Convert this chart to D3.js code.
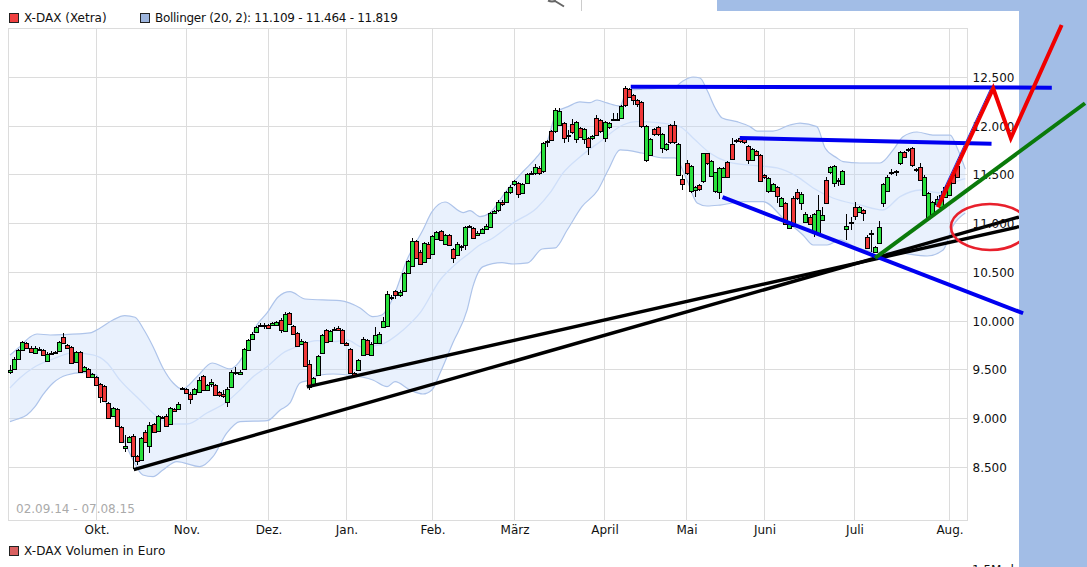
<!DOCTYPE html>
<html><head><meta charset="utf-8">
<style>html,body{margin:0;padding:0;background:#fff;overflow:hidden}svg{display:block}
text{font-family:"DejaVu Sans",sans-serif;font-size:12px;fill:#111}</style>
<script src="https://cdn.jsdelivr.net/npm/d3@7"></script></head><body><svg id="c" width="1087" height="567"></svg>
<script>
const up=[1,1,1,1,0,0,1,0,0,1,1,1,1,0,0,0,1,0,1,0,1,0,0,0,0,1,0,0,1,1,0,0,1,0,1,0,1,1,0,1,0,1,
1,0,0,1,1,0,1,1,0,0,0,1,1,1,1,1,1,1,1,1,0,0,1,1,0,1,0,0,0,1,0,0,1,1,1,0,1,1,0,0,0,0,0,1,
1,0,1,1,1,1,1,1,0,1,1,1,1,0,0,1,0,1,1,0,1,0,0,1,1,1,1,0,1,
1,1,1,1,1,0,1,1,1,0,1,1,1,1,0,1,0,0,1,1,0,1,0,1,0,1,0,1,0,0,1,1,0,
1,1,0,0,0,0,0,1,1,0,0,1,1,0,0,1,0,0,1,1,0,1,0,1,1,1,1,0,0,1,0,0,0,1,0,0,0,1,1,0,1,0,1,0,0,1,1,
0,1,1,1,0,1,1,
1,1,1,0,0,1,0,0,1,1,1,1,1,1,0,1,0,0,0,0,0,1,1,1,1,1,1,1,0,0];
const bodyTop=[9496,9616,9708,9787,9777,9729,9726,9719,9708,9667,9678,9684,9787,9838,9756,9736,9684,9684,9530,9510,
9455,9431,9356,9339,9161,9109,9102,8918,8723,8815,8825,8620,8805,8866,8938,8942,9027,9020,9027,9113,
9102,9154,9318,9308,9257,9308,9400,9441,9349,9376,9349,9274,9253,9308,9482,9482,9482,9719,9811,9873,
9941,9962,9962,9965,9982,9992,10016,10078,10085,9955,9880,9797,9787,9565,9421,9647,9862,9914,9900,9917,
9934,9914,9777,9719,9472,9599,9821,9811,9770,9859,9873,10003,10280,10249,10311,10301,10499,10619,10824,10824,
10711,10804,10797,10876,10917,10927,10889,10889,10742,10797,10770,10968,10975,10958,10910,10948,10982,11112,11126,11218,
11228,11321,11382,11434,11413,11403,11506,11523,11584,11574,11824,11844,11947,12163,12153,12029,11906,12019,12040,11978,
11968,11875,11896,12081,12060,12040,12029,12077,12077,12204,12389,12378,12317,12265,12245,11998,11865,11968,11988,11916,
11814,12009,12009,11814,11454,11619,11588,11372,11393,11721,11721,11639,11526,11567,11567,11629,11814,11855,11875,11865,
11793,11769,11742,11701,11495,11465,11403,11372,11259,11208,11002,11269,11321,11310,11105,11074,11095,11136,11085,11444,
11577,11588,11444,11536,10979,11013,11174,11174,11136,10869,10910,10763,10962,11403,11482,11533,11540,11732,11739,11762,
11780,11557,11584,11482,11311,11218,11256,11294,11380,11413,11499,11595,11602,11574];
const bodyBottom=[9482,9513,9613,9702,9729,9684,9678,9702,9650,9595,9660,9674,9698,9780,9729,9571,9585,9479,9493,9428,
9428,9349,9222,9185,9010,9024,8928,8764,8702,8764,8613,8562,8579,8764,8723,8866,8877,9007,8928,8949,
9082,9102,9308,9263,9205,9257,9277,9291,9298,9359,9246,9239,9229,9171,9325,9465,9462,9513,9708,9815,
9890,9951,9955,9934,9965,9965,9907,9900,9975,9873,9743,9770,9544,9325,9359,9445,9678,9791,9797,9910,
9914,9780,9760,9472,9448,9503,9657,9667,9657,9777,9777,9941,9955,10242,10273,10273,10311,10499,10568,10653,
10592,10605,10653,10694,10848,10831,10797,10787,10653,10677,10763,10787,10968,10852,10889,10906,10948,10968,11115,11136,
11198,11228,11321,11403,11307,11317,11423,11513,11516,11516,11536,11834,11855,11947,12009,11875,11896,11937,11865,11886,
11865,11783,11875,11906,11947,11875,11988,12060,12060,12081,12214,12296,12265,12231,11998,11656,11708,11916,11916,11779,
11762,11834,11834,11495,11403,11516,11331,11345,11352,11434,11619,11485,11331,11321,11475,11475,11660,11844,11844,11834,
11649,11649,11701,11434,11475,11331,11341,11280,11187,11002,10961,10978,11259,11208,11023,11002,10910,10910,11043,11215,
11526,11413,11434,11403,10948,11003,11081,11122,11115,10756,10890,10715,10807,11208,11335,11523,11530,11619,11680,11755,
11598,11547,11447,11300,11054,11105,11201,11174,11276,11294,11420,11482,11567,11516];
const high=[9548,9630,9720,9795,9790,9745,9745,9735,9720,9680,9695,9700,9800,9880,9765,9745,9695,9695,9545,9520,
9465,9440,9365,9350,9170,9120,9110,8925,8830,8825,8840,8630,8815,8880,8966,8955,9040,9030,9045,9125,
9115,9170,9330,9320,9270,9320,9425,9450,9360,9410,9360,9285,9290,9325,9495,9530,9495,9730,9820,9885,
9955,9985,9985,9975,9995,10005,10030,10090,10095,9965,9890,9815,9800,9600,9430,9655,9870,9925,9915,9945,
9950,9925,9790,9730,9480,9610,9839,9820,9785,9941,9885,10044,10311,10265,10320,10320,10510,10630,10858,10835,
10730,10815,10810,10885,10930,10935,10900,10900,10755,10810,10785,10980,10990,10970,10925,10960,10995,11125,11140,11240,
11240,11335,11395,11450,11425,11415,11520,11540,11610,11590,11835,11860,11960,12190,12190,12040,11960,12070,12055,11990,
11980,11885,11910,12115,12075,12055,12040,12132,12132,12215,12410,12390,12330,12275,12255,12010,11875,11980,12000,11930,
11825,12020,12057,11825,11495,11655,11600,11385,11405,11730,11730,11650,11535,11580,11580,11640,11875,11870,11900,11880,
11805,11780,11755,11712,11510,11480,11415,11385,11275,11220,11015,11285,11355,11325,11120,11090,11110,11293,11167,11482,
11590,11600,11470,11550,11095,11071,11225,11185,11150,10885,10934,10775,11027,11415,11495,11561,11555,11745,11750,11775,
11790,11575,11620,11495,11325,11230,11280,11340,11395,11425,11510,11610,11660,11590];
const low=[9455,9505,9605,9695,9720,9675,9670,9690,9640,9585,9650,9665,9690,9770,9715,9560,9575,9470,9485,9420,
9415,9340,9161,9175,9000,9015,8915,8750,8660,8755,8486,8521,8565,8750,8647,8855,8860,8995,8915,8940,
9065,9090,9295,9250,9154,9245,9270,9280,9285,9330,9235,9225,9215,9120,9315,9450,9450,9505,9700,9805,
9880,9940,9925,9925,9955,9955,9880,9890,9965,9860,9735,9760,9535,9298,9340,9435,9660,9780,9790,9900,
9905,9770,9745,9465,9440,9495,9650,9655,9640,9770,9765,9935,9945,10220,10225,10245,10300,10490,10555,10640,
10580,10595,10640,10680,10840,10820,10785,10775,10598,10665,10725,10729,10955,10840,10875,10895,10935,10960,11100,11125,
11185,11215,11310,11390,11259,11305,11410,11500,11505,11505,11525,11790,11845,11935,12000,11824,11840,11925,11824,11875,
11818,11701,11860,11895,11935,11840,11975,12050,12050,12070,12200,12285,12220,12195,11985,11636,11695,11905,11905,11721,
11750,11820,11820,11485,11345,11505,11320,11276,11340,11420,11605,11475,11320,11249,11465,11465,11650,11830,11830,11820,
11608,11640,11690,11425,11460,11315,11330,11208,11175,10990,10950,10965,11245,11146,11010,10990,10865,10895,11030,11205,
11515,11380,11390,11395,10831,10934,11037,11110,11030,10745,10712,10700,10795,11167,11325,11500,11490,11605,11670,11740,
11585,11530,11435,11290,11040,11095,11190,11165,11265,11280,11410,11470,11555,11495];

const upperAt=[0,2.4,4.9,6.6,9.8,12.9,19.5,22,25.1,28,30.5,32.4,34.9,37.3,39.8,42,45.6,49.3,53.7,56.8,60.2,62.7,65.4,68.3,72,80.5,85.4,88.5,90.7,93.4,96.8,100.7,102.9,106.1,110.5,112.2,114.6,117,121.2,125.1,128.5,131,133.4,136.1,139,141.5,143.2,145.6,148.8,150.5,155.4,162.2,163.9,166.6,168.3,170,172,173.7,177.3,180.5,182.2,186.1,190.2,192.7,196.8,198.8,201.7,203.2,207.3,212.2,215.4,217.8,221.2,225.1,229.3,231,233];
const upperBand=[9654,9739,9839,9869,9859,9862,9880,9931,10013,10057,10041,9931,9739,9521,9367,9305,9431,9572,9511,9637,9962,10085,10249,10303,10228,10211,10136,10047,10064,10239,10628,10936,11121,11223,11114,11134,11073,11110,11346,11534,11685,11842,12149,12201,12249,12242,12269,12239,12208,12372,12382,12406,12457,12505,12495,12372,12187,12085,12047,11996,11951,11951,12013,12033,11996,11777,11675,11637,11623,11623,11757,11893,11941,11910,11910,11780,11560];
const lowerAt=[0,1.7,4.1,6.1,8,10.5,13.9,17.8,21.2,22,25.1,28.5,30,32.4,34.9,37.3,40.7,46.3,49.5,52.9,56.1,62.7,65.9,68.3,70.7,73.2,75.6,78.8,82.2,88.5,92,93.9,97.6,100.7,102.9,104.9,108,111.5,112.9,115.4,120,122.7,126.3,129.8,133,135.9,139.5,143.4,145.9,148.8,154.1,159.3,162.2,165.1,167.6,170,173.2,178.8,183.7,189,193.4,195.9,199.3,202.4,206.1,210.5,217.1,223.7,227.6,230,233];
const lowerBand=[8970,8995,9039,9124,9244,9367,9449,9473,9449,9295,9059,8711,8577,8423,8406,8475,8560,8509,8611,8854,8970,8980,9090,9162,9367,9398,9449,9459,9449,9398,9329,9380,9295,9254,9295,9469,9777,10116,10355,10560,10601,10587,10598,10741,10752,10936,11175,11346,11551,11757,11726,11675,11675,11449,11213,11182,11192,11226,11226,11039,10885,10782,10782,10834,10762,10714,10700,10669,10731,10977,11109];
const middleAt=[0,2.4,5.6,10.5,15.4,20.2,23.7,26.8,31.7,35.9,39.8,43.2,48,52.9,56.1,59.3,62.7,66.6,70,74.9,78.8,82.2,85.9,90.2,95.9,100,104.9,109,111.5,114.6,117.8,122.7,128.5,131.7,134.9,139,143.9,149.5,152.9,158.5,163.4,166.6,170.7,174.9,179.8,187.1,192,195.9,200.7,207.3,212.9,217.1,222,226.8,230,233];
const middleBand=[9316,9418,9521,9613,9675,9654,9572,9398,9193,9021,8946,8946,9059,9175,9295,9431,9534,9675,9739,9801,9791,9808,9736,9757,9911,10085,10423,10598,10680,10782,10854,11008,11162,11316,11521,11685,11842,12013,12047,12034,11996,11880,11726,11637,11603,11572,11483,11367,11264,11193,11141,11278,11346,11316,11418,11464];

const priceTicks=[8500,9000,9500,10000,10500,11000,11500,12000,12500];
const monthAt=[21.1,43.05,63.05,82.07,103.05,123.05,145,165,184.02,205.98,229.15];
const monthLabels=["Okt.","Nov.","Dez.","Jan.","Feb.","März","April","Mai","Juni","Juli","Aug."];

const blackTrend=[[[30.2,8478],[246.1,11069]],[[72.4,9326],[246.1,10970]]];
const blueTrend=[[[151.4,12406],[254.1,12396]],[[178,11880],[239.4,11821]],[[173.8,11272],[247.1,10082]]];
const greenTrend=[[211,10649],[262.2,12236]];
const redPath=[[226.3,11169],[239.8,12389],[244.1,11877],[256.5,13039]];
const ringCentre=[239,10967], ringRadius=[9.5,236];

const svg=d3.select("#c");
const x=d3.scaleLinear().domain([0,233]).range([10,965.3]);
const y=d3.scaleLinear().domain([8500,12500]).range([467.5,77.5]);
const L=8.5,R=967.5,T=28.5,B=520.5;
const snapY=v=>Math.ceil(y(v))-0.5, snapX=i=>Math.floor(x(i))+0.5;
const GRID="#dcdcdc";

// grid
const g=svg.append("g").attr("stroke",GRID).attr("shape-rendering","crispEdges");
g.selectAll(".h").data(priceTicks).join("line").attr("x1",L).attr("x2",R).attr("y1",snapY).attr("y2",snapY);
g.selectAll(".v").data(monthAt).join("line").attr("y1",T).attr("y2",B).attr("x1",snapX).attr("x2",snapX);
g.append("rect").attr("x",L).attr("y",T).attr("width",R-L).attr("height",B-T).attr("fill","none");

// bollinger
const lineGen=d3.line().x(d=>x(d[0])).y(d=>y(d[1])).curve(d3.curveMonotoneX);
const upperPts=upperAt.map((a,i)=>[a,upperBand[i]]), lowerPts=lowerAt.map((a,i)=>[a,lowerBand[i]]), midPts=middleAt.map((a,i)=>[a,middleBand[i]]);
const upD=lineGen(upperPts), loD=lineGen(lowerPts.slice().reverse());
svg.append("path").attr("d",upD+"L"+loD.slice(1)+"Z").attr("fill","#c4d9fa").attr("fill-opacity",0.38);
svg.append("path").attr("d",upD).attr("fill","none").attr("stroke","#aec4ea").attr("stroke-width",1.2);
svg.append("path").attr("d",lineGen(lowerPts)).attr("fill","none").attr("stroke","#aec4ea").attr("stroke-width",1.2);
svg.append("path").attr("d",lineGen(midPts)).attr("fill","none").attr("stroke","#cfdff9").attr("stroke-width",1.3);

// candles
const idx=d3.range(up.length);
const cx=i=>Math.round(x(i));
const cg=svg.append("g").attr("shape-rendering","crispEdges");
cg.selectAll("line").data(idx).join("line").attr("x1",i=>cx(i)+0.5).attr("x2",i=>cx(i)+0.5)
  .attr("y1",i=>y(high[i])).attr("y2",i=>y(low[i])).attr("stroke","#000");
cg.selectAll("rect").data(idx).join("rect").attr("x",i=>cx(i)-1.5).attr("width",4)
  .attr("y",i=>Math.round(y(bodyTop[i]))+0.5)
  .attr("height",i=>Math.max(1,Math.round(y(bodyBottom[i]))-Math.round(y(bodyTop[i]))))
  .attr("fill",i=>up[i]?"#28e03c":"#f03838").attr("stroke","#000");

// black trend lines and ring go beneath the side panel
const seg=d3.line().x(d=>x(d[0])).y(d=>y(d[1]));
svg.selectAll(".bk").data(blackTrend).join("path").attr("d",seg).attr("fill","none").attr("stroke","#000").attr("stroke-width",3.4);
svg.append("ellipse").attr("cx",x(ringCentre[0])).attr("cy",y(ringCentre[1]))
  .attr("rx",x(ringRadius[0])-x(0)).attr("ry",y(0)-y(ringRadius[1]))
  .attr("fill","none").attr("stroke","#e8202c").attr("stroke-width",2.6);

// page panels
const PANEL="#a2bde6";
svg.append("rect").attr("x",1019).attr("y",0).attr("width",68).attr("height",567).attr("fill",PANEL);
svg.append("rect").attr("x",717).attr("y",0).attr("width",370).attr("height",11).attr("fill",PANEL);
svg.append("line").attr("x1",581.5).attr("x2",581.5).attr("y1",0).attr("y2",11).attr("stroke","#ccc");
svg.append("path").attr("d","M548 0.5Q552 2.5 556 0.5M555 1L564 6.5").attr("fill","none").attr("stroke","#666").attr("stroke-width",2);

// axes
const deFmt=d3.formatLocale({decimal:",",thousands:".",grouping:[3],currency:["","€"]}).format(",");
const ay=svg.append("g").attr("transform",`translate(${R},0)`).call(d3.axisRight(y).tickValues(priceTicks).tickFormat(deFmt).tickSize(0).tickPadding(5));
ay.select(".domain").remove();
const ax=svg.append("g").attr("transform",`translate(0,${B})`).call(d3.axisBottom(x).tickValues(monthAt).tickFormat((d,i)=>monthLabels[i]).tickSize(0).tickPadding(5));
ax.select(".domain").remove();
svg.selectAll(".tick text").style("font-family",'"DejaVu Sans",sans-serif').style("font-size","12px").style("fill","#111");

// trend lines on top
svg.selectAll(".bl").data(blueTrend).join("path").attr("d",seg).attr("fill","none").attr("stroke","#0000f0").attr("stroke-width",4);
svg.append("path").attr("d",seg(greenTrend)).attr("fill","none").attr("stroke","#0a7a0a").attr("stroke-width",4);
svg.append("path").attr("d",seg(redPath.slice(0,2))).attr("fill","none").attr("stroke","#2030e0").attr("stroke-width",1).attr("transform","translate(-2,-1)");
svg.append("path").attr("d",seg(redPath)).attr("fill","none").attr("stroke","#f00000").attr("stroke-width",4).attr("stroke-linejoin","miter");

// legends
const sw=[[9,13,"#f04040"],[140,13,"#9db5de"],[9,546,"#d96060"]];
svg.selectAll(".sw").data(sw).join("rect").attr("x",d=>d[0]+0.5).attr("y",d=>d[1]+0.5).attr("width",9).attr("height",9).attr("fill",d=>d[2]).attr("stroke","#222");
const labels=[[24,22,"X-DAX (Xetra)",0],[155,22,"Bollinger (20, 2): 11.109 - 11.464 - 11.819",-0.28],[24,555,"X-DAX Volumen in Euro",0.1],[972,574,"1.5Mrd",0]];
svg.selectAll(".lb").data(labels).join("text").attr("x",d=>d[0]).attr("y",d=>d[1]).style("letter-spacing",d=>d[3]+"px").text(d=>d[2]);
svg.append("text").attr("x",16).attr("y",513).style("fill","#aaa").text("02.09.14 - 07.08.15");
</script></body></html>
